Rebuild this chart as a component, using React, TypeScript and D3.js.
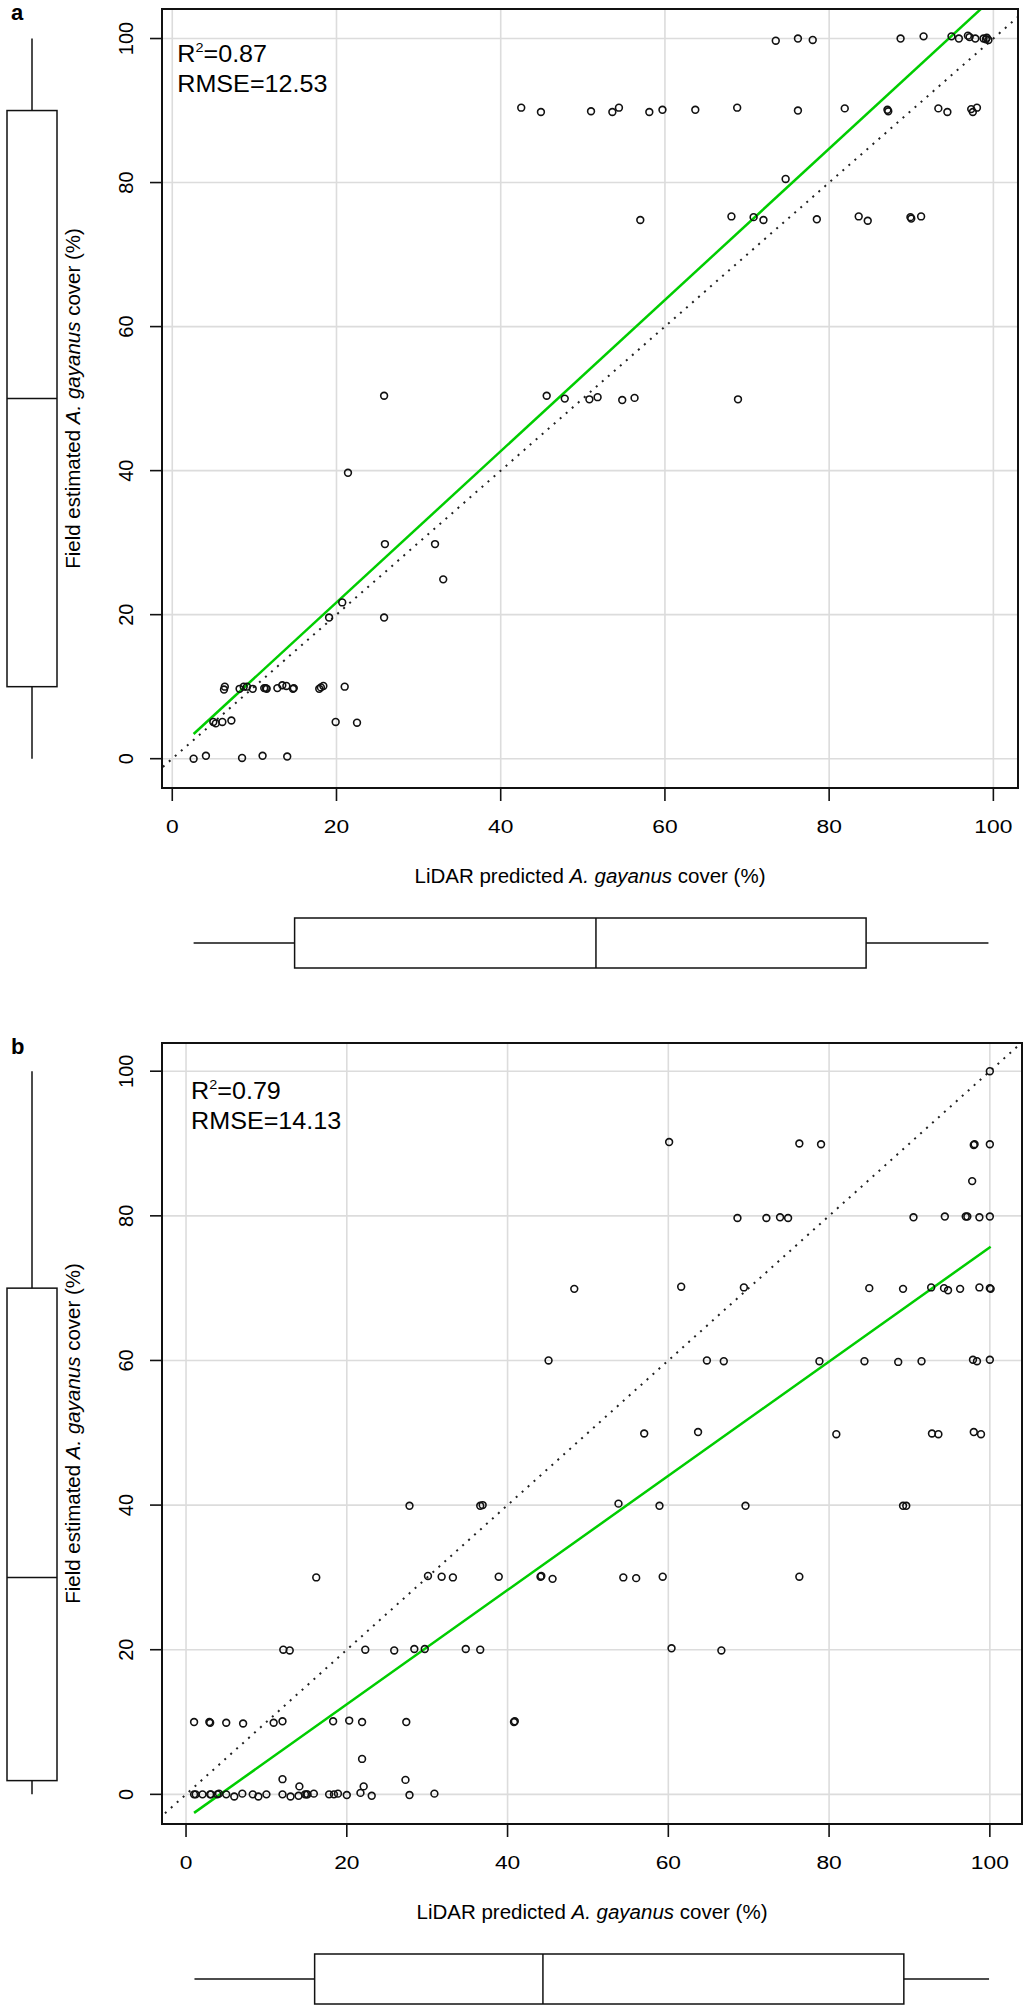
import * as d3 from "d3";

// tick values shared by both panels
const ticks = [0, 20, 40, 60, 80, 100];

// panel a: LiDAR predicted vs field estimated cover (%)
const lidarA = [
  73.5, 76.2, 78.0, 88.7, 91.5, 94.9, 95.8, 96.9, 97.1, 97.8, 98.8, 99.1, 99.2, 99.4,
  42.5, 44.9, 51.0, 53.6, 54.4, 58.1, 59.7, 63.7, 68.8, 76.2, 81.9, 87.1, 87.2, 93.3, 94.4, 97.3, 97.5, 98.0,
  74.7,
  57.0, 68.1, 70.8, 72.0, 78.5, 83.6, 84.7, 89.9, 90.0, 91.2,
  25.8, 45.6, 47.8, 50.8, 51.8, 54.8, 56.3, 68.9,
  21.4, 25.9, 32.0, 33.0, 19.1, 20.7, 25.8,
  6.3, 6.4, 8.2, 8.7, 9.1, 9.8, 11.2, 11.4, 11.5, 12.8, 13.4, 13.9, 14.7, 14.8, 17.9, 18.1, 18.4, 21.0,
  5.0, 5.3, 6.1, 7.2, 19.9, 22.5,
  2.6, 4.1, 8.5, 11.0, 14.0,
];
const fieldA = [
  99.7, 100, 99.8, 100, 100.3, 100.3, 100, 100.4, 100.2, 100, 100, 99.9, 100.1, 99.8,
  90.4, 89.8, 89.9, 89.8, 90.4, 89.8, 90.1, 90.1, 90.4, 90.0, 90.3, 90.1, 89.9, 90.3, 89.8, 90.2, 89.8, 90.4,
  80.5,
  74.8, 75.3, 75.2, 74.8, 74.9, 75.3, 74.7, 75.2, 75.0, 75.3,
  50.4, 50.4, 50.0, 49.9, 50.2, 49.8, 50.1, 49.9,
  39.7, 29.8, 29.8, 24.9, 19.6, 21.7, 19.6,
  9.6, 10.0, 9.7, 10.0, 10.0, 9.7, 9.8, 9.8, 9.7, 9.8, 10.2, 10.1, 9.7, 9.8, 9.7, 9.9, 10.1, 10.0,
  5.1, 4.9, 5.1, 5.3, 5.1, 5.0,
  0.0, 0.4, 0.1, 0.4, 0.3,
];

// panel b
const lidarB = [
  100,
  60.1, 76.3, 79.0, 98.0, 98.1, 100,
  97.8,
  68.6, 72.2, 73.9, 74.9, 90.5, 94.4, 97.0, 97.2, 98.7, 100,
  48.3, 61.6, 69.4, 85.0, 89.2, 92.7, 94.3, 94.8, 96.3, 98.7, 100, 100.1,
  45.1, 64.8, 66.9, 78.8, 84.4, 88.6, 91.5, 97.9, 98.4, 100,
  57.0, 63.7, 80.9, 92.8, 93.6, 98.0, 98.9,
  27.8, 36.6, 36.9, 53.8, 58.9, 69.6, 89.2, 89.6,
  16.2, 30.1, 31.8, 33.2, 38.9, 44.1, 44.2, 45.6, 54.4, 56.0, 59.3, 76.3,
  12.1, 12.9, 22.3, 25.9, 28.4, 29.7, 34.8, 36.6, 60.4, 66.6,
  1.0, 2.9, 3.0, 5.0, 7.1, 10.9, 12.0, 18.3, 20.3, 21.9, 27.4, 40.8, 40.9,
  21.9, 12.0, 14.1, 22.1, 27.3,
  1.0, 1.2, 2.05, 3.0, 3.1, 3.9, 4.1, 5.0, 6.0, 7.0, 8.3, 9.0, 10.0, 12.0, 13.0, 14.0,
  14.8, 15.0, 15.1, 15.9, 17.8, 18.4, 18.9, 20.0, 21.7, 23.1, 27.8, 30.9,
];
const fieldB = [
  100,
  90.2, 90.0, 89.9, 89.8, 89.9, 89.9,
  84.8,
  79.7, 79.7, 79.8, 79.7, 79.8, 79.9, 79.9, 79.9, 79.8, 79.9,
  69.9, 70.2, 70.1, 70.0, 69.9, 70.1, 70.0, 69.7, 69.9, 70.1, 70.0, 69.9,
  60.0, 60.0, 59.9, 59.9, 59.9, 59.8, 59.9, 60.1, 59.9, 60.1,
  49.9, 50.1, 49.8, 49.9, 49.8, 50.1, 49.8,
  39.9, 39.9, 40.0, 40.2, 39.9, 39.9, 39.9, 39.9,
  30.0, 30.2, 30.1, 30.0, 30.1, 30.1, 30.2, 29.8, 30.0, 29.9, 30.1, 30.1,
  20.0, 19.9, 20.0, 19.9, 20.1, 20.1, 20.1, 20.0, 20.2, 19.9,
  10.0, 10.0, 9.9, 9.9, 9.8, 9.9, 10.1, 10.1, 10.2, 10.0, 10.0, 10.0, 10.1,
  4.9, 2.1, 1.1, 1.1, 2.0,
  0, 0, 0, 0, 0, 0, 0.1, 0, -0.3, 0.1, 0, -0.3, 0, 0, -0.3, -0.2,
  0, 0, 0, 0.1, 0, 0, 0.1, -0.1, 0.2, -0.2, -0.1, 0.1,
];

// regression fits: [intercept, slope], drawn over the range of predictions
const fitA = [0.7, 1.05];
const fitB = [-3.35, 0.79];

// boxplot five-number summaries [min, q1, median, q3, max]
const xBoxA = [2.6, 14.9, 51.6, 84.5, 99.4];
const yBoxA = [0, 10, 50, 90, 100];
const xBoxB = [1.05, 16.0, 44.4, 89.3, 99.9];
const yBoxB = [0, 1.9, 30, 70, 100];

const statsA = ["0.87", "12.53"];
const statsB = ["0.79", "14.13"];

const FONT = "'Liberation Sans', Arial, Helvetica, sans-serif";

interface PanelProps {
  id: string;
  letter: string;
  xs: number[];
  ys: number[];
  fit: number[];
  xBox: number[];
  yBox: number[];
  stats: string[];
  annY: number;
  box: { left: number; top: number; right: number; bottom: number };
  xDomain: [number, number];
  yDomain: [number, number];
}

function Panel({ id, letter, xs, ys, fit, xBox, yBox, stats, annY, box, xDomain, yDomain }: PanelProps) {
  const x = d3.scaleLinear().domain(xDomain).range([box.left, box.right]);
  const y = d3.scaleLinear().domain(yDomain).range([box.bottom, box.top]);

  const xMin = d3.min(xs)!;
  const xMax = d3.max(xs)!;
  const fitLine = d3.line<number>()
    .x(d => x(d))
    .y(d => y(fit[0] + fit[1] * d));

  const diag = d3.line<number>().x(d => x(d)).y(d => y(d));
  const lo = Math.min(xDomain[0], yDomain[0]);
  const hi = Math.max(xDomain[1], yDomain[1]);

  const midY = (box.top + box.bottom) / 2;
  const midX = (box.left + box.right) / 2;

  // left boxplot (field values), bottom boxplot (lidar values)
  const lbx0 = 7, lbx1 = 57, lbc = 32;
  const bby0 = box.bottom + 130, bby1 = box.bottom + 180, bbc = box.bottom + 155;

  return (
    <g>
      <defs>
        <clipPath id={`clip-${id}`}>
          <rect x={box.left} y={box.top} width={box.right - box.left} height={box.bottom - box.top} />
        </clipPath>
      </defs>

      {/* grid */}
      {ticks.map(t => (
        <g key={`g${t}`} stroke="#dcdcdc" strokeWidth={1.6}>
          <line x1={x(t)} x2={x(t)} y1={box.top} y2={box.bottom} />
          <line x1={box.left} x2={box.right} y1={y(t)} y2={y(t)} />
        </g>
      ))}

      <g clipPath={`url(#clip-${id})`}>
        <path
          d={diag([lo, hi])!}
          fill="none"
          stroke="#222"
          strokeWidth={2}
          strokeDasharray="2 6"
        />
        <path d={fitLine([xMin, xMax])!} fill="none" stroke="#00cd00" strokeWidth={2.5} />
      </g>

      {xs.map((v, i) => (
        <circle key={i} cx={x(v)} cy={y(ys[i])} r={3.4} fill="none" stroke="#111" strokeWidth={1.6} />
      ))}

      <rect
        x={box.left}
        y={box.top}
        width={box.right - box.left}
        height={box.bottom - box.top}
        fill="none"
        stroke="#111"
        strokeWidth={2}
      />

      {/* axes */}
      {ticks.map(t => (
        <g key={`x${t}`}>
          <line x1={x(t)} x2={x(t)} y1={box.bottom} y2={box.bottom + 13} stroke="#111" strokeWidth={1.6} />
          <text
            transform={`translate(${x(t)},${box.bottom + 45}) scale(1.2,1)`}
            textAnchor="middle"
            fontSize={19}
            fontFamily={FONT}
          >{t}</text>
          <line x1={box.left - 12} x2={box.left} y1={y(t)} y2={y(t)} stroke="#111" strokeWidth={1.6} />
          <text
            transform={`translate(${box.left - 29},${y(t)}) rotate(-90)`}
            textAnchor="middle"
            fontSize={20}
            fontFamily={FONT}
          >{t}</text>
        </g>
      ))}

      <text x={midX} y={box.bottom + 95} textAnchor="middle" fontSize={20.5} fontFamily={FONT}>
        LiDAR predicted <tspan fontStyle="italic">A. gayanus</tspan> cover (%)
      </text>
      <text
        transform={`translate(80,${midY}) rotate(-90)`}
        textAnchor="middle"
        fontSize={20.5}
        fontFamily={FONT}
      >
        Field estimated <tspan fontStyle="italic">A. gayanus</tspan> cover (%)
      </text>

      <text transform={`translate(${x(0) + 5},${box.top + annY}) scale(1.07,1)`} fontSize={23.5} fontFamily={FONT}>
        R<tspan fontSize={13.5} dy={-10}>2</tspan><tspan dy={10}>={stats[0]}</tspan>
      </text>
      <text transform={`translate(${x(0) + 5},${box.top + annY + 30}) scale(1.07,1)`} fontSize={23.5} fontFamily={FONT}>
        RMSE={stats[1]}
      </text>

      <text x={11} y={box.top + 11} fontSize={22} fontWeight="bold" fontFamily={FONT}>{letter}</text>

      {/* left boxplot */}
      <g stroke="#111" strokeWidth={1.5} fill="none">
        <line x1={lbc} x2={lbc} y1={y(yBox[4])} y2={y(yBox[3])} />
        <line x1={lbc} x2={lbc} y1={y(yBox[1])} y2={y(yBox[0])} />
        <rect x={lbx0} y={y(yBox[3])} width={lbx1 - lbx0} height={y(yBox[1]) - y(yBox[3])} />
        <line x1={lbx0} x2={lbx1} y1={y(yBox[2])} y2={y(yBox[2])} />
      </g>

      {/* bottom boxplot */}
      <g stroke="#111" strokeWidth={1.5} fill="none">
        <line x1={x(xBox[0])} x2={x(xBox[1])} y1={bbc} y2={bbc} />
        <line x1={x(xBox[3])} x2={x(xBox[4])} y1={bbc} y2={bbc} />
        <rect x={x(xBox[1])} y={bby0} width={x(xBox[3]) - x(xBox[1])} height={bby1 - bby0} />
        <line x1={x(xBox[2])} x2={x(xBox[2])} y1={bby0} y2={bby1} />
      </g>
    </g>
  );
}

export default function App() {
  return (
    <div style={{ position: "absolute", left: 0, top: 0 }}>
      <svg width={1024} height={2012} viewBox="0 0 1024 2012" style={{ display: "block", background: "#fff" }}>
        <Panel
          id="a"
          letter="a"
          xs={lidarA}
          ys={fieldA}
          fit={fitA}
          xBox={xBoxA}
          yBox={yBoxA}
          stats={statsA}
          annY={53}
          box={{ left: 162, top: 9, right: 1018, bottom: 788 }}
          xDomain={[-1.25, 103.0]}
          yDomain={[-4.07, 104.1]}
        />
        <Panel
          id="b"
          letter="b"
          xs={lidarB}
          ys={fieldB}
          fit={fitB}
          xBox={xBoxB}
          yBox={yBoxB}
          stats={statsB}
          annY={55.5}
          box={{ left: 162, top: 1043, right: 1022, bottom: 1824 }}
          xDomain={[-2.99, 104.0]}
          yDomain={[-4.1, 103.9]}
        />
      </svg>
    </div>
  );
}
